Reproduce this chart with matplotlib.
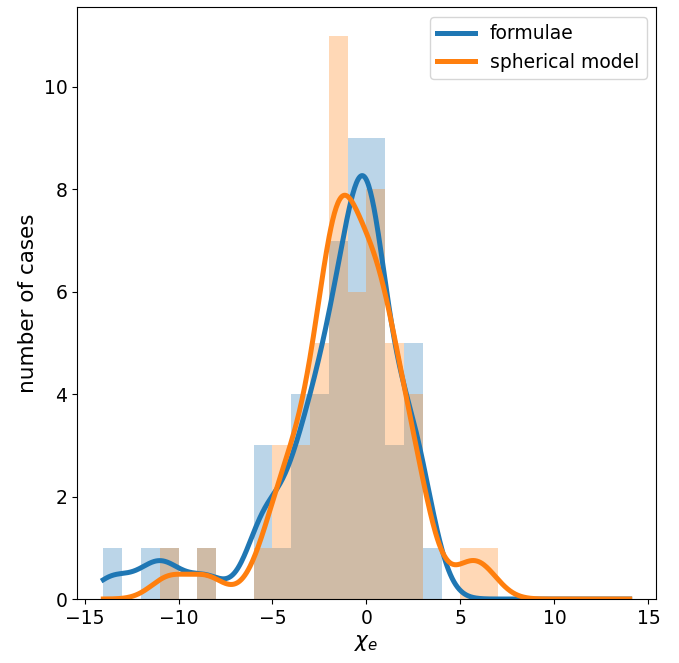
import numpy as np
import matplotlib.pyplot as plt

# individual cases estimated from the histogram bars and the KDE curves
formulae = np.array([
    -13.5, -11.5, -10.5, -8.5,
    -5.5, -5.5, -5.5, -4.6,
    -3.5, -3.5, -3.5, -3.5, -2.5, -2.5, -2.5, -2.5,
    -1.5, -1.5, -1.5, -1.5, -1.5, -1.5, -1.5,
    -0.4, -0.4, -0.4, -0.4, -0.4, -0.4, -0.4, -0.4, -0.4,
    0.4, 0.4, 0.4, 0.4, 0.4, 0.4, 0.4, 0.4, 0.4,
    1.5, 1.5, 1.5,
    2.5, 2.5, 2.5, 2.5, 2.5,
    3.3,
])
spherical = np.array([
    -10.5, -8.5,
    -5.5, -4.5, -4.5, -4.5,
    -3.5, -3.5, -3.5, -2.5, -2.5, -2.5, -2.5, -2.5,
    -1.5, -1.5, -1.5, -1.5, -1.5, -1.5, -1.5, -1.5, -1.5, -1.5, -1.5,
    -0.5, -0.5, -0.5, -0.5, -0.5, -0.5,
    0.5, 0.5, 0.5, 0.5, 0.5, 0.5, 0.5, 0.5,
    1.5, 1.5, 1.5, 1.5, 1.5,
    2.7, 2.7, 2.7, 2.7,
    5.3, 6.2,
])
bin_edges = np.arange(-14, 8)
bandwidth = 0.97


def kde(data, grid, bw):
    n = len(data)
    z = (grid[:, None] - data[None, :]) / bw
    dens = np.exp(-0.5 * z ** 2).sum(axis=1) / (n * bw * np.sqrt(2 * np.pi))
    return dens * n  # scale to counts per unit bin


grid = np.linspace(-14, 14, 600)

fig = plt.figure(figsize=(6.79, 6.63), dpi=100)
ax = fig.add_axes([0.1134, 0.0965, 0.8527, 0.8922])

ax.hist(formulae, bins=bin_edges, color='C0', alpha=0.3)
ax.hist(spherical, bins=bin_edges, color='C1', alpha=0.3)
ax.plot(grid, kde(formulae, grid, bandwidth), color='C0', lw=3.6, label='formulae')
ax.plot(grid, kde(spherical, grid, bandwidth), color='C1', lw=3.6, label='spherical model')

ax.set_xlim(-15.4, 15.4)
ax.set_ylim(0, 11.55)
ax.tick_params(labelsize=13.5)
ax.set_xlabel(r'$\chi_e$', fontsize=15.5)
ax.set_ylabel('number of cases', fontsize=15.5)
ax.legend(fontsize=13.5)

fig.savefig('out.png', dpi=100)
